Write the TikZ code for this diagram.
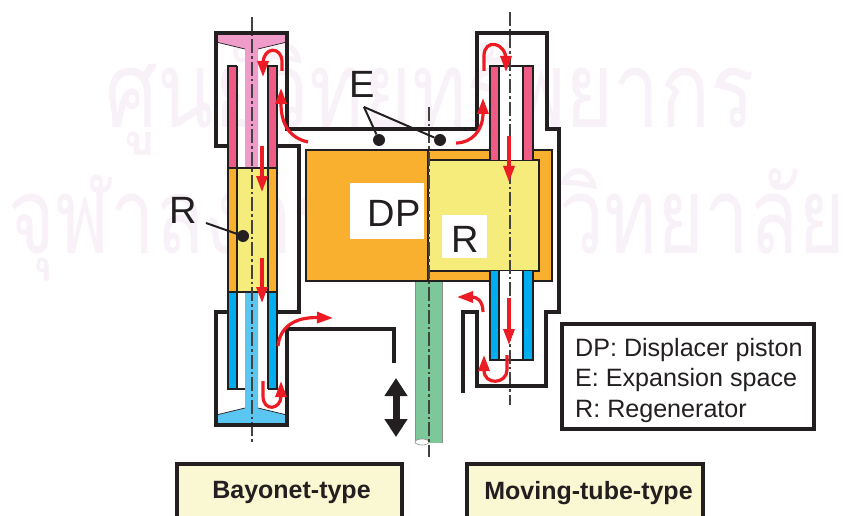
\documentclass[tikz,border=0pt]{standalone}
\usepackage{fontspec}
\setmainfont{Liberation Sans}
\newfontfamily\thaifont[Script=Thai]{Loma}
\usetikzlibrary{arrows.meta}
\definecolor{inkline}{HTML}{231F20}
\definecolor{flowred}{HTML}{ED1C24}
\definecolor{pinkcap}{HTML}{F09CCB}
\definecolor{pinkwall}{HTML}{EE5C86}
\definecolor{orangefill}{HTML}{F9B02E}
\definecolor{yellowfill}{HTML}{F6EC7C}
\definecolor{bluewall}{HTML}{00AEEF}
\definecolor{bluecap}{HTML}{5CC6F2}
\definecolor{rodgreen}{HTML}{7DC89B}
\definecolor{boxyellow}{HTML}{FAF8D2}
\definecolor{markpink}{HTML}{F8F1F7}
\tikzset{
  wall/.style={draw=inkline,line width=3.1pt,miter limit=10},
  thinwall/.style={draw=inkline,line width=2.7pt},
  centreline/.style={draw=inkline!85,line width=1.1pt,dash pattern=on 14pt off 3pt on 2.5pt off 3pt},
  flow/.style={draw=flowred,line width=3.2pt,-{Triangle[width=11pt,length=16pt]}},
  dotmark/.style={circle,fill=inkline,inner sep=0pt,minimum size=12pt},
  leader/.style={draw=inkline,line width=2pt},
  biglabel/.style={inner sep=0pt,text=inkline,font=\fontsize{38}{40}\selectfont},
  legendline/.style={anchor=base west,inner sep=0pt,text=inkline,font=\fontsize{25.1}{28}\selectfont},
  typebox/.style={anchor=base,inner sep=0pt,text=inkline,font=\fontsize{25}{28}\selectfont\bfseries},
  watermark/.style={anchor=base,inner sep=0pt,text=markpink,font=\thaifont\fontsize{106}{110}\selectfont}
}
\begin{document}
\begin{tikzpicture}[x=1pt,y=-1pt]
\useasboundingbox (0,0) rectangle (846,516);
\node[watermark,xscale=.78] (markone) at (430,128) {ศูนย์วิทยทรัพยากร};
\node[watermark,xscale=.755] (marktwo) at (427,253) {จุฬาลงกรณ์มหาวิทยาลัย};

\fill[pinkcap] (216,33) -- (287,33) -- (287,42) -- (258,49) -- (258,168) -- (245,168) -- (245,49) -- (216,42) -- cycle;
\draw[inkline,line width=.7pt] (216,42) -- (245,49) (258,49) -- (287,42);
\fill[bluecap] (216,425) -- (287,425) -- (287,415) -- (258,408) -- (258,292) -- (245,292) -- (245,408) -- (216,415) -- cycle;
\draw[inkline,line width=.7pt] (216,415) -- (245,408) (258,408) -- (287,415);

\fill[pinkwall] (228,66) rectangle (237,168) (268,66) rectangle (277,168);
\fill[orangefill] (228,168) rectangle (277,292);
\fill[yellowfill] (237,168) rectangle (268,292);
\fill[bluewall] (228,292) rectangle (237,389) (268,292) rectangle (277,389);
\draw[thinwall] (237,66) -- (228,66) -- (228,389) -- (245,389) (268,389) -- (277,389) -- (277,66) -- (268,66) -- (268,389) (237,66) -- (237,389) (228,168) -- (277,168) (228,292) -- (277,292);

\fill[rodgreen] (415,281) rectangle (442,443);
\draw[black!45,line width=.8pt] (415,281) -- (415,443) (442,281) -- (442,443);
\draw[black!45,line width=.6pt,fill=white] (422,442) ellipse (7pt and 3pt);

\fill[orangefill] (306,150) rectangle (428,281);
\fill[orangefill] (428,150) rectangle (552,281);
\fill[yellowfill] (428,160) rectangle (539,271);
\draw[thinwall] (306,150) rectangle (428,281);
\draw[thinwall] (428,150) -- (552,150) -- (552,281) -- (428,281);
\draw[thinwall] (428,160) -- (539,160) -- (539,271) -- (428,271);

\fill[white] (499,66) rectangle (523,160) (499,271) rectangle (523,360);
\fill[pinkwall] (490,66) rectangle (499,160) (523,66) rectangle (533,160);
\fill[bluewall] (490,271) rectangle (499,360) (523,271) rectangle (533,360);
\draw[thinwall] (490,160) -- (490,66) -- (533,66) -- (533,160) (499,66) -- (499,160) (523,66) -- (523,160);
\draw[thinwall] (490,271) -- (490,360) -- (533,360) -- (533,271) (499,271) -- (499,360) (523,271) -- (523,360);

\draw[centreline] (252,17) -- (252,442);
\draw[centreline] (429,107) -- (429,457);
\draw[centreline] (510,12) -- (510,405);

\draw[wall] (228,146) -- (216,146) -- (216,33) -- (287,33) -- (287,129) -- (477,129) -- (477,33) -- (547,33) -- (547,129) -- (559,129) -- (559,312) -- (546,312) -- (546,386) -- (477,386) -- (477,312) -- (463,312) -- (463,393);
\draw[wall] (277,146) -- (299,146) -- (299,312) -- (277,312);
\draw[wall] (228,312) -- (216,312) -- (216,425) -- (287,425) -- (287,329) -- (394,329) -- (394,363);

\draw[flow] (308,142) .. controls (290,138) and (281,125) .. (281,88);
\draw[flow] (282,71) -- (282,62) .. controls (282,46) and (263,46) .. (263,64) -- (263,77);
\draw[flow] (262,146) -- (262,192);
\draw[flow] (262,258) -- (262,303);
\draw[flow] (263,381) -- (263,396) .. controls (263,412) and (281,410) .. (281,396) -- (281,381);
\draw[flow] (278,346) .. controls (280,326) and (296,317) .. (333,318);
\draw[flow] (456,143) .. controls (472,143) and (483,130) .. (483,98);
\draw[flow] (484,71) -- (484,56) .. controls (484,38) and (506,42) .. (506,60) -- (506,72);
\draw[flow] (509,136) -- (509,182);
\draw[flow] (509,298) -- (509,345);
\draw[flow] (507,355) -- (507,370) .. controls (507,384) and (484,386) .. (484,370) -- (484,355);
\draw[flow] (483,312) .. controls (483,300) and (476,297) .. (457,297);

\coordinate (strokeup) at (396,378);
\coordinate (strokedown) at (396,437);
\draw[inkline,line width=7pt,{Triangle[width=22pt,length=18pt]}-{Triangle[width=22pt,length=18pt]}] (strokeup) -- (strokedown);

\fill[white] (350,183) rectangle (424,239);
\fill[white] (442,215) rectangle (487,258);
\node[biglabel] (dplabel) at (394,213.5) {DP};
\node[biglabel] (rinner) at (465,239) {R};
\node[biglabel] (rleft) at (183,210.5) {R};
\node[biglabel] (elabel) at (362,84) {E};

\coordinate (eapex) at (364,107);
\node[dotmark] (eleft) at (379,140) {};
\node[dotmark] (eright) at (440,140) {};
\draw[leader] (eapex) -- (eleft);
\draw[leader] (eapex) -- (eright);
\coordinate (rfoot) at (206,223);
\node[dotmark] (rdot) at (243,236) {};
\draw[leader] (rfoot) -- (rdot);

\draw[wall,fill=white] (562,324) rectangle (814,429);
\node[legendline] (legdp) at (575,356) {DP: Displacer piston};
\node[legendline] (lege) at (575,386) {E: Expansion space};
\node[legendline] (legr) at (575,417) {R: Regenerator};

\draw[wall,fill=boxyellow] (177,464) rectangle (402,526);
\draw[wall,fill=boxyellow] (467,464) rectangle (703,526);
\node[typebox] (bayonet) at (291.5,498) {Bayonet-type};
\node[typebox] (movingtube) at (588.5,499) {Moving-tube-type};
\end{tikzpicture}
\end{document}
